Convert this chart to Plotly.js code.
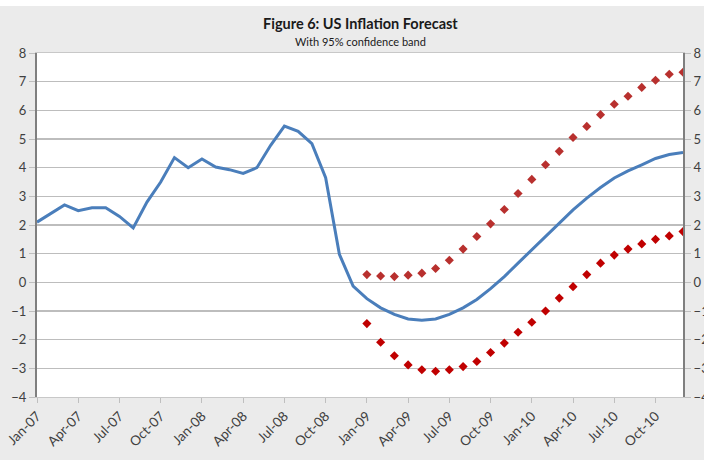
<!DOCTYPE html>
<html>
<head>
<meta charset="utf-8">
<script src="https://cdn.plot.ly/plotly-3.0.1.min.js"></script>
<style>
html,body{margin:0;padding:0;background:#ffffff;}
#chart{position:absolute;left:0;top:6px;width:704px;height:454px;}
</style>
</head>
<body>
<div id="chart"></div>
<script>
// Months Jan-07 .. Dec-10 (index 0..47)
const monthLabels = ["Jan-07","Feb-07","Mar-07","Apr-07","May-07","Jun-07","Jul-07","Aug-07","Sep-07","Oct-07","Nov-07","Dec-07",
  "Jan-08","Feb-08","Mar-08","Apr-08","May-08","Jun-08","Jul-08","Aug-08","Sep-08","Oct-08","Nov-08","Dec-08",
  "Jan-09","Feb-09","Mar-09","Apr-09","May-09","Jun-09","Jul-09","Aug-09","Sep-09","Oct-09","Nov-09","Dec-09",
  "Jan-10","Feb-10","Mar-10","Apr-10","May-10","Jun-10","Jul-10","Aug-10","Sep-10","Oct-10","Nov-10","Dec-10"];
const tickLabels = ["Jan-07","Apr-07","Jul-07","Oct-07","Jan-08","Apr-08","Jul-08","Oct-08",
  "Jan-09","Apr-09","Jul-09","Oct-09","Jan-10","Apr-10","Jul-10","Oct-10"];

// Inflation actual + central forecast (Jan-07 .. Dec-10)
const inflation = [2.1,2.4,2.7,2.5,2.6,2.6,2.3,1.9,2.8,3.5,4.35,4.0,
  4.3,4.02,3.93,3.8,4.0,4.78,5.45,5.27,4.84,3.65,0.98,-0.13,
  -0.57,-0.89,-1.12,-1.28,-1.32,-1.28,-1.12,-0.89,-0.6,-0.22,0.2,0.67,
  1.13,1.6,2.07,2.53,2.94,3.31,3.64,3.89,4.1,4.32,4.46,4.53];

// 95% band (Jan-09 .. Dec-10)
const upperBand = [0.27,0.22,0.2,0.25,0.32,0.48,0.77,1.16,1.6,2.04,2.54,3.1,
  3.59,4.1,4.57,5.05,5.44,5.85,6.21,6.49,6.8,7.05,7.26,7.33];
const lowerBand = [-1.44,-2.09,-2.56,-2.88,-3.05,-3.1,-3.05,-2.94,-2.76,-2.45,-2.12,-1.74,
  -1.39,-1.0,-0.55,-0.15,0.27,0.67,0.95,1.16,1.34,1.5,1.62,1.77];

const bandStart = monthLabels.indexOf("Jan-09");
const xAll = monthLabels.map((m,i)=>i);
const xBand = upperBand.map((v,i)=>bandStart+i);
const tickVals = tickLabels.map(t=>monthLabels.indexOf(t));

const traces = [
  {x:xAll, y:inflation, type:'scatter', mode:'lines', name:'Inflation',
   line:{color:'#4a7ebb', width:3}, hoverinfo:'skip'},
  {x:xBand, y:upperBand, type:'scatter', mode:'markers', name:'Upper',
   marker:{symbol:'diamond', size:7, color:'#b8302e'}, hoverinfo:'skip'},
  {x:xBand, y:lowerBand, type:'scatter', mode:'markers', name:'Lower', yaxis:'y2',
   marker:{symbol:'diamond', size:7, color:'#c00000'}, hoverinfo:'skip'}
];

const tickFont = {family:'Lato, "Open Sans", sans-serif', size:13, color:'#404040'};
const yCommon = {
  range:[-4,8], dtick:1, tick0:0, fixedrange:true,
  showline:true, linecolor:'#7f7f7f', linewidth:2,
  ticks:'outside', ticklen:6, tickcolor:'#bfbfbf', tickwidth:1,
  tickfont:tickFont, zeroline:false
};

const layout = {
  width:704, height:454,
  margin:{l:37, r:21, t:47, b:63},
  paper_bgcolor:'#ebebeb', plot_bgcolor:'#ffffff',
  showlegend:false,
  xaxis:{range:[0,47], tickvals:tickVals, ticktext:tickLabels, tickangle:-45,
    showgrid:false, zeroline:false, showline:true, mirror:true, linecolor:'#c8c8c8', linewidth:1,
    ticks:'outside', ticklen:5, tickcolor:'#bfbfbf', tickfont:Object.assign({}, tickFont, {size:13.5}),
    fixedrange:true},
  yaxis:Object.assign({}, yCommon, {showgrid:true, gridcolor:'#bdbdbd', gridwidth:1.5, side:'left'}),
  yaxis2:Object.assign({}, yCommon, {overlaying:'y', side:'right', showgrid:false}),
  annotations:[
    {text:'<b>Figure 6: US Inflation Forecast</b>', xref:'paper', yref:'paper', x:0.5, y:1, yshift:30,
     showarrow:false, font:{family:'Lato, "Open Sans", sans-serif', size:14.5, color:'#1a1a1a'}, xanchor:'center', yanchor:'middle'},
    {text:'With 95% confidence band', xref:'paper', yref:'paper', x:0.5, y:1, yshift:12,
     showarrow:false, font:{family:'Lato, "Open Sans", sans-serif', size:11, color:'#1a1a1a'}, xanchor:'center', yanchor:'middle'}
  ]
};

Plotly.newPlot('chart', traces, layout, {staticPlot:true, displayModeBar:false});
</script>
</body>
</html>
